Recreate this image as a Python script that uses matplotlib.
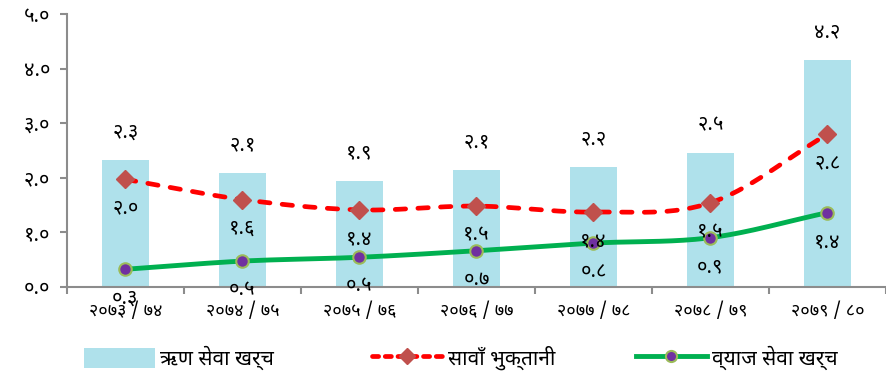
import numpy as np
import matplotlib
matplotlib.use("Agg")
import matplotlib.pyplot as plt
import matplotlib.font_manager as fm
from matplotlib.ft2font import FT2Font
from matplotlib.lines import Line2D
from matplotlib.patches import Patch

# ---------------- data ----------------
categories = ["२०७३ / ७४", "२०७४ / ७५", "२०७५ / ७६", "२०७६ / ७७", "२०७७ / ७८", "२०७८ / ७९", "२०७९ / ८०"]
debt_service = [2.32, 2.08, 1.94, 2.14, 2.2, 2.46, 4.16]     # ऋण सेवा खर्च
principal = [1.97, 1.6, 1.41, 1.48, 1.37, 1.54, 2.8]          # सावाँ भुक्तानी
interest = [0.32, 0.47, 0.54, 0.66, 0.8, 0.9, 1.36]           # व्याज सेवा खर्च
y_ticks = [0, 1, 2, 3, 4, 5]
series_names = ["ऋण सेवा खर्च", "सावाँ भुक्तानी", "व्याज सेवा खर्च"]

DEV_DIGITS = str.maketrans("0123456789", "०१२३४५६७८९")
def dev(s):
    return s.translate(DEV_DIGITS)

# ---------------- font ----------------
def find_deva():
    seen = set()
    found = []
    for f in fm.fontManager.ttflist:
        if f.fname in seen:
            continue
        seen.add(f.fname)
        try:
            cm = FT2Font(f.fname).get_charmap()
        except Exception:
            continue
        if 0x0915 in cm and 0x0966 in cm:
            found.append(f.name)
    return found

cands = find_deva()
pref = ["Noto Sans Devanagari", "Lohit Devanagari", "Mukta", "FreeSans", "FreeSerif"]
deva = None
for p in pref:
    if p in cands:
        deva = p
        break
if deva is None and cands:
    deva = cands[0]
fams = ([deva] if deva else []) + ["DejaVu Sans"]
plt.rcParams["font.family"] = fams

# ---------------- figure ----------------
fig = plt.figure(figsize=(8.87, 3.78), dpi=100)
W, H = 887, 378
ax = fig.add_axes([67 / W, 1 - 286.7 / H, (886 - 67) / W, (286.7 - 14.3) / H])

x = np.arange(len(categories))
ax.set_xlim(-0.5, len(categories) - 0.5)
ax.set_ylim(0, 5)

bar_color = "#afe1eb"
ax.bar(x, debt_service, width=0.41, color=bar_color, zorder=1)

def catmull(xs, ys, n=30):
    xs = np.asarray(xs, float); ys = np.asarray(ys, float)
    px = np.concatenate([[2 * xs[0] - xs[1]], xs, [2 * xs[-1] - xs[-2]]])
    py = np.concatenate([[2 * ys[0] - ys[1]], ys, [2 * ys[-1] - ys[-2]]])
    ox, oy = [], []
    for i in range(1, len(px) - 2):
        t = np.linspace(0, 1, n, endpoint=False)
        for P, out in ((px, ox), (py, oy)):
            p0, p1, p2, p3 = P[i - 1], P[i], P[i + 1], P[i + 2]
            out.extend(0.5 * ((2 * p1) + (-p0 + p2) * t + (2 * p0 - 5 * p1 + 4 * p2 - p3) * t ** 2
                              + (-p0 + 3 * p1 - 3 * p2 + p3) * t ** 3))
    ox.append(xs[-1]); oy.append(ys[-1])
    return np.array(ox), np.array(oy)

red = "#ff0000"
green = "#00b050"
dash = (0, (2.2, 2.6))
sx, sy = catmull(x, principal)
ax.plot(sx, sy, color=red, lw=3.4, ls=dash, zorder=3, dash_capstyle="round")
ax.plot(x, principal, ls="none", marker="D", ms=9, color="#c0504d", zorder=4)

gx, gy = catmull(x, interest)
ax.plot(gx, gy, color=green, lw=3.5, zorder=3)
ax.plot(x, interest, ls="none", marker="o", ms=9, mfc="#7030a0", mec="#9bbb59", mew=1.5, zorder=5)

lab_fs = 14.5
for xi, v in zip(x, debt_service):
    ax.annotate(dev(f"{v:.1f}"), (xi, v), xytext=(0, 20), textcoords="offset points",
                ha="center", va="center", fontsize=lab_fs, zorder=6)
for xi, v in zip(x, principal):
    ax.annotate(dev(f"{v:.1f}"), (xi, v), xytext=(0, -21), textcoords="offset points",
                ha="center", va="center", fontsize=lab_fs, zorder=6)
for xi, v in zip(x, interest):
    ax.annotate(dev(f"{v:.1f}"), (xi, v), xytext=(0, -21), textcoords="offset points",
                ha="center", va="center", fontsize=lab_fs, zorder=6, annotation_clip=False)

for s in ("top", "right"):
    ax.spines[s].set_visible(False)
for s in ("left", "bottom"):
    ax.spines[s].set_color("#8c8c8c")
    ax.spines[s].set_linewidth(1.5)

ax.set_yticks(y_ticks)
ax.set_yticklabels([dev(f"{t:.1f}") for t in y_ticks], fontsize=14.5)
ax.set_xticks(np.arange(-0.5, len(categories) + 0.5, 1.0))
ax.set_xticklabels([])
ax.set_xticks(x, minor=True)
ax.set_xticklabels(categories, minor=True, fontsize=13)
ax.tick_params(axis="x", which="minor", length=0, pad=11)
ax.tick_params(axis="x", which="major", length=5, width=1.5, color="#8c8c8c", direction="out")
ax.tick_params(axis="y", length=5, width=1.5, color="#8c8c8c", direction="out", pad=7)

handles = [
    Patch(facecolor=bar_color, edgecolor="none"),
    Line2D([], [], color=red, lw=3.4, ls=(0, (1.3, 1.4)), dash_capstyle="round",
           marker="D", ms=8, mfc="#c0504d", mec="#c0504d"),
    Line2D([], [], color=green, lw=3.5, marker="o", ms=8, mfc="#7030a0", mec="#9bbb59", mew=1.5),
]
starts = [84, 372, 636]
for h, name, xs0 in zip(handles, series_names, starts):
    fig.legend([h], [name], loc="center left", bbox_to_anchor=(xs0 / W, 1 - 358 / H),
               frameon=False, fontsize=15, handlelength=3.4, handleheight=1.1, handletextpad=0.25,
               borderpad=0, borderaxespad=0)

fig.savefig("out.png", dpi=100)
